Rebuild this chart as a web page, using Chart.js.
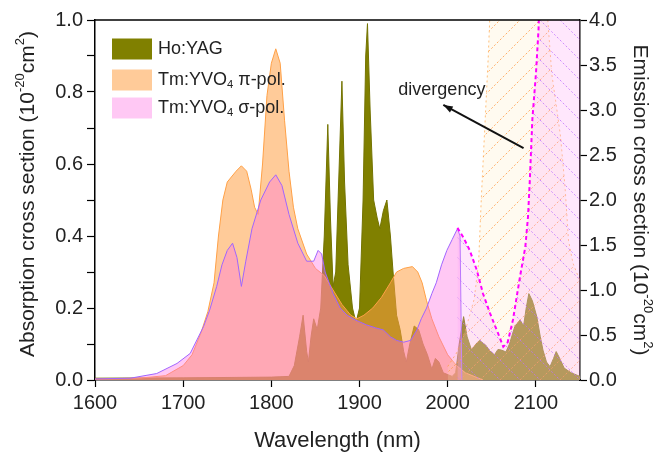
<!DOCTYPE html>
<html>
<head>
<meta charset="utf-8">
<script src="https://cdn.jsdelivr.net/npm/chart.js@4.4.1/dist/chart.umd.min.js"></script>
<style>
  body { margin: 0; background: #fff; }
  #c { display: block; }
</style>
</head>
<body>
<canvas id="c" width="666" height="453"></canvas>
<script>
// absorption, left axis (10^-20 cm^2)
const hoWl = [1600,1700,1800,1820,1826,1832,1836,1840,1842,1845,1848,1852,1856,1860,1864,1867,1870,1873,1877,1880,1883,1887,1892,1896,1900,1904,1907,1909,1912,1916,1920,1923,1927,1931,1935,1938,1942,1946,1950,1953,1957,1962,1967,1972,1977,1982,1986,1990,1995,2000,2005,2009,2013,2018,2022,2027,2032,2036,2043,2048,2053,2057,2061,2066,2070,2076,2082,2086,2089,2092,2096,2101,2105,2108,2112,2116,2120,2123,2127,2132,2140,2150];
const hoAbs = [0.005,0.006,0.008,0.01,0.04,0.12,0.18,0.08,0.05,0.12,0.17,0.14,0.2,0.4,0.71,0.45,0.26,0.3,0.6,0.83,0.55,0.32,0.2,0.16,0.2,0.5,0.9,0.99,0.75,0.5,0.45,0.42,0.47,0.5,0.4,0.3,0.18,0.14,0.08,0.05,0.1,0.15,0.14,0.1,0.07,0.03,0.06,0.05,0.02,0.015,0.01,0.02,0.1,0.176,0.12,0.083,0.1,0.11,0.097,0.08,0.07,0.085,0.083,0.078,0.1,0.148,0.167,0.15,0.2,0.24,0.22,0.176,0.12,0.083,0.05,0.037,0.06,0.079,0.06,0.033,0.02,0.01];

const piWl = [1600,1650,1680,1700,1710,1720,1728,1735,1740,1745,1750,1760,1766,1772,1777,1781,1785,1790,1795,1800,1805,1810,1815,1820,1825,1830,1840,1850,1860,1870,1880,1890,1897,1905,1915,1925,1935,1942,1950,1960,1966,1971,1976,1982,1990,2000,2010,2020,2030,2040];
const piAbs = [0.003,0.005,0.012,0.04,0.07,0.13,0.19,0.27,0.4,0.5,0.55,0.58,0.595,0.58,0.53,0.48,0.46,0.6,0.79,0.88,0.92,0.88,0.72,0.58,0.48,0.42,0.35,0.31,0.29,0.25,0.21,0.18,0.17,0.18,0.2,0.23,0.27,0.3,0.31,0.315,0.3,0.27,0.22,0.17,0.12,0.07,0.04,0.02,0.01,0];

const sigWl = [1600,1640,1670,1693,1708,1723,1730,1738,1744,1750,1756,1761,1766,1771,1778,1788,1798,1805,1812,1820,1830,1840,1848,1853,1857,1861,1870,1878,1886,1895,1908,1918,1927,1935,1942,1950,1958,1965,1970,1976,1982,1987,1993,1999,2005,2011,2014,2016];
const sigAbs = [0.003,0.005,0.018,0.046,0.074,0.148,0.194,0.26,0.32,0.36,0.38,0.34,0.26,0.33,0.42,0.5,0.55,0.57,0.54,0.46,0.38,0.33,0.33,0.36,0.35,0.3,0.24,0.2,0.18,0.167,0.153,0.145,0.139,0.12,0.11,0.105,0.11,0.139,0.17,0.2,0.24,0.27,0.32,0.36,0.39,0.42,0.4,0];

// emission, right axis (10^-20 cm^2)
const piEmWl = [2000,2010,2020,2030,2035,2038,2042,2046,2050,2070,2090,2105,2112,2118,2123,2128,2133,2137,2142,2150];
const piEm = [0.15,0.3,0.55,0.9,1.3,2.0,2.8,3.6,4.6,6,6,6,4.2,3.4,3.06,2.7,2.15,1.55,1.3,1.1];

const sigEmWl = [2011,2018,2025,2033,2040,2048,2057,2063,2068,2074,2082,2088,2091,2093,2096,2100,2103,2106,2115,2130,2150];
const sigEm = [1.69,1.58,1.44,1.22,0.96,0.74,0.52,0.37,0.42,0.67,1.15,1.48,1.81,2.2,2.9,3.4,3.9,5,7,9,12];

const legendLabels = ['Ho:YAG', 'Tm:YVO4 π-pol.', 'Tm:YVO4 σ-pol.'];

const FONT = "'Liberation Sans', Arial, sans-serif";

function pts(xs, ys) {
  return xs.map((x, i) => ({ x: x, y: ys[i] }));
}

const ctx = document.getElementById('c').getContext('2d');

function hatch(tint, line, dir) {
  const s = 20;
  const t = document.createElement('canvas');
  t.width = s; t.height = s;
  const g = t.getContext('2d');
  g.fillStyle = tint;
  g.fillRect(0, 0, s, s);
  g.strokeStyle = line;
  g.lineWidth = 1;
  g.setLineDash([2, 2]);
  g.beginPath();
  if (dir > 0) { g.moveTo(0, s); g.lineTo(s, 0); }
  else { g.moveTo(0, 0); g.lineTo(s, s); }
  g.stroke();
  return ctx.createPattern(t, 'repeat');
}

const hoColor = 'rgb(128,128,0)';
const piFill = 'rgba(255,160,70,0.55)';
const sigFill = 'rgba(255,110,225,0.38)';

// rich text: segments [text, 'sup'|'sub'|undefined]
function richWidth(g, segs, size) {
  let w = 0;
  segs.forEach(s => {
    g.font = (s[1] ? size * 0.62 : size) + 'px ' + FONT;
    w += g.measureText(s[0]).width;
  });
  return w;
}
function richDraw(g, segs, x, y, size) {
  let cx = x;
  segs.forEach(s => {
    const fs = s[1] ? size * 0.62 : size;
    g.font = fs + 'px ' + FONT;
    let dy = 0;
    if (s[1] === 'sup') dy = -size * 0.38;
    if (s[1] === 'sub') dy = size * 0.28;
    g.fillText(s[0], cx, y + dy);
    cx += g.measureText(s[0]).width;
  });
}

const decorPlugin = {
  id: 'decor',
  afterDraw(chart) {
    const g = chart.ctx;
    const a = chart.chartArea;
    const xs = chart.scales.x, ys = chart.scales.y;
    g.save();
    // frame top line
    g.strokeStyle = '#000';
    g.lineWidth = 1.5;
    g.beginPath();
    g.moveTo(a.left, a.top);
    g.lineTo(a.right, a.top);
    g.stroke();

    // legend
    const sw = [hoColor, piFill, sigFill];
    const rows = [49, 80, 108];
    g.textBaseline = 'middle';
    g.fillStyle = '#222';
    legendLabels.forEach((lab, i) => {
      g.fillStyle = sw[i];
      g.fillRect(112, rows[i] - 10.5, 40, 21);
      g.fillStyle = '#222';
      const parts = lab.split('4');
      const segs = parts.length > 1 ? [[parts[0]], ['4', 'sub'], [parts[1]]] : [[lab]];
      richDraw(g, segs, 158, rows[i], 18);
    });

    // axis titles
    const tsize = 21;
    const left = [['Absorption cross section (10'], ['-20', 'sup'], ['cm'], ['2', 'sup'], [')']];
    const right = [['Emission cross section (10'], ['-20', 'sup'], ['cm'], ['2', 'sup'], [')']];
    const cy = (a.top + a.bottom) / 2;
    g.save();
    g.translate(28, cy - 6);
    g.rotate(-Math.PI / 2);
    richDraw(g, left, -richWidth(g, left, tsize) / 2, 0, tsize);
    g.restore();
    g.save();
    g.translate(640, cy);
    g.rotate(Math.PI / 2);
    richDraw(g, right, -richWidth(g, right, tsize) / 2, 0, tsize);
    g.restore();

    g.font = '22px ' + FONT;
    g.textAlign = 'center';
    g.fillText('Wavelength (nm)', (a.left + a.right) / 2, 441);

    // annotation
    g.textAlign = 'left';
    g.font = '18px ' + FONT;
    g.fillText('divergency', xs.getPixelForValue(1944), ys.getPixelForValue(0.806));
    const hx = xs.getPixelForValue(1995), hy = ys.getPixelForValue(0.764);
    const tx = xs.getPixelForValue(2086), ty = ys.getPixelForValue(0.644);
    g.strokeStyle = '#111';
    g.lineWidth = 2;
    g.beginPath();
    g.moveTo(tx, ty);
    g.lineTo(hx, hy);
    g.stroke();
    const ang = Math.atan2(hy - ty, hx - tx);
    g.fillStyle = '#111';
    g.beginPath();
    g.moveTo(hx, hy);
    g.lineTo(hx - 10 * Math.cos(ang - 0.35), hy - 10 * Math.sin(ang - 0.35));
    g.lineTo(hx - 10 * Math.cos(ang + 0.35), hy - 10 * Math.sin(ang + 0.35));
    g.closePath();
    g.fill();
    g.restore();
  }
};

const tickFont = { family: FONT, size: 20 };

new Chart(ctx, {
  type: 'line',
  data: {
    datasets: [
      {
        label: 'Tm:YVO4 σ-pol. emission',
        data: pts(sigEmWl, sigEm),
        yAxisID: 'y2',
        borderColor: 'rgb(255,0,255)',
        borderWidth: 2,
        borderDash: [4, 3],
        backgroundColor: hatch('rgba(255,170,245,0.28)', 'rgba(190,110,255,0.75)', -1),
        fill: 'origin'
      },
      {
        label: 'Tm:YVO4 π-pol. emission',
        data: pts(piEmWl, piEm),
        yAxisID: 'y2',
        borderColor: 'rgba(255,150,40,0.6)',
        borderWidth: 1,
        borderDash: [2, 3],
        backgroundColor: hatch('rgba(255,230,180,0.2)', 'rgba(255,150,60,0.75)', 1),
        fill: 'origin'
      },
      {
        label: legendLabels[2],
        data: pts(sigWl, sigAbs),
        yAxisID: 'y',
        borderColor: 'rgb(160,100,255)',
        borderWidth: 1,
        backgroundColor: sigFill,
        fill: 'origin'
      },
      {
        label: legendLabels[1],
        data: pts(piWl, piAbs),
        yAxisID: 'y',
        borderColor: 'rgb(255,160,70)',
        borderWidth: 1,
        backgroundColor: piFill,
        fill: 'origin'
      },
      {
        label: legendLabels[0],
        data: pts(hoWl, hoAbs),
        yAxisID: 'y',
        borderColor: 'rgb(115,115,0)',
        borderWidth: 1,
        backgroundColor: hoColor,
        fill: 'origin'
      }
    ]
  },
  options: {
    responsive: false,
    animation: false,
    devicePixelRatio: 1,
    layout: { padding: { top: 20, left: 0, right: 0, bottom: 0 } },
    elements: { point: { radius: 0 }, line: { tension: 0 } },
    plugins: { legend: { display: false }, tooltip: { enabled: false } },
    scales: {
      x: {
        type: 'linear',
        min: 1600, max: 2150,
        ticks: {
          stepSize: 50,
          color: '#222',
          font: tickFont,
          padding: 4,
          maxRotation: 0,
          callback: v => (v % 100 === 0 && v < 2150) ? String(v) : ''
        },
        grid: { drawOnChartArea: false, tickLength: 7, tickColor: '#000', tickWidth: 1.2 },
        border: { color: '#000', width: 1.5 },
        afterFit: s => { s.height = 73; }
      },
      y: {
        position: 'left',
        min: 0, max: 1,
        ticks: {
          stepSize: 0.1,
          color: '#222',
          font: tickFont,
          padding: 4,
          callback: v => Math.round(v * 10) % 2 === 0 ? v.toFixed(1) : ''
        },
        grid: { drawOnChartArea: false, tickLength: 8, tickColor: '#000', tickWidth: 1.2 },
        border: { color: '#000', width: 1.5 },
        afterFit: s => { s.width = 95; }
      },
      y2: {
        position: 'right',
        min: 0, max: 4,
        ticks: {
          stepSize: 0.25,
          color: '#222',
          font: tickFont,
          padding: 2,
          callback: v => Math.round(v * 4) % 2 === 0 ? v.toFixed(1) : ''
        },
        grid: { drawOnChartArea: false, tickLength: 7, tickColor: '#000', tickWidth: 1.2 },
        border: { color: '#000', width: 1.5 },
        afterFit: s => { s.width = 86; }
      }
    }
  },
  plugins: [decorPlugin]
});
</script>
</body>
</html>
